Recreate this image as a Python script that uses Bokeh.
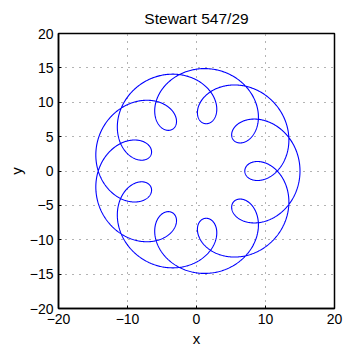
import numpy as np
from bokeh.plotting import figure
from bokeh.models import Range1d, FixedTicker, ColumnDataSource
from bokeh.embed import file_html
from bokeh.resources import INLINE

# Curve definition (epitrochoid terms)
term_radii = [11.0, 4.0]
term_freqs = [2, 11]
n_samples = 3000

x_ticks = [-20, -10, 0, 10, 20]
y_ticks = [-20, -15, -10, -5, 0, 5, 10, 15, 20]
title_text = "Stewart 547/29"

t = np.linspace(0, 2 * np.pi, n_samples)
xs = sum(r * np.cos(f * t) for r, f in zip(term_radii, term_freqs))
ys = sum(r * np.sin(f * t) for r, f in zip(term_radii, term_freqs))
src = ColumnDataSource(dict(x=xs, y=ys))

p = figure(width=344, height=349, output_backend="svg", toolbar_location=None,
           x_range=Range1d(-20, 20), y_range=Range1d(-20, 20),
           min_border_left=58, min_border_right=10, min_border_top=33, min_border_bottom=41,
           title=title_text)

p.line("x", "y", source=src, line_color="#0000ff", line_width=1.1)

def lab(v):
    return ("\u2212" + str(abs(v))) if v < 0 else str(v)

p.xaxis.ticker = FixedTicker(ticks=x_ticks)
p.yaxis.ticker = FixedTicker(ticks=y_ticks)
p.xaxis.major_label_overrides = {v: lab(v) for v in x_ticks}
p.yaxis.major_label_overrides = {v: lab(v) for v in y_ticks}
p.xaxis.axis_label = "x"
p.yaxis.axis_label = "y"

for ax in (p.xaxis, p.yaxis):
    ax.axis_line_color = "black"
    ax.axis_line_width = 1.5
    ax.major_tick_in = 3
    ax.major_tick_out = 0
    ax.minor_tick_line_color = None
    ax.major_tick_line_color = "black"
    ax.major_label_text_font = "Liberation Sans"
    ax.major_label_text_font_size = "14px"
    ax.major_label_text_color = "black"
    ax.axis_label_text_font = "Liberation Sans"
    ax.axis_label_text_font_size = "15px"
    ax.axis_label_text_font_style = "normal"
    ax.axis_label_text_color = "black"

p.xaxis.major_label_standoff = 5
p.xaxis.axis_label_standoff = 3
p.yaxis.major_label_standoff = 5
p.yaxis.axis_label_standoff = 2

p.outline_line_color = "black"
p.outline_line_width = 1.5
p.outline_line_alpha = 1.0

for g in (p.xgrid, p.ygrid):
    g.grid_line_color = "#666666"
    g.grid_line_dash = "1 6"
    g.grid_line_width = 1

p.xgrid.ticker = FixedTicker(ticks=x_ticks)
p.ygrid.ticker = FixedTicker(ticks=y_ticks)

p.title.text_font = "Liberation Sans"
p.title.text_font_size = "15.5px"
p.title.text_font_style = "normal"
p.title.align = "center"
p.title.text_color = "black"
p.title.standoff = 14

p.background_fill_color = "white"
p.border_fill_color = "white"

open("out.html", "w").write(file_html(p, INLINE))
